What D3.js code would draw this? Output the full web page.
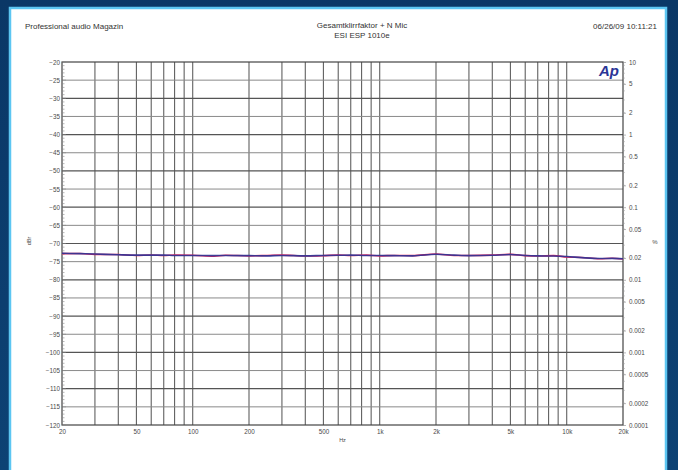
<!DOCTYPE html>
<html>
<head>
<meta charset="utf-8">
<script src="https://cdn.jsdelivr.net/npm/d3@7"></script>
<style>
  body { margin: 0; background: #0b3a6a; }
  svg { display: block; font-family: "Liberation Sans", Arial, sans-serif; }
</style>
</head>
<body>
<script>
const W = 678, H = 470;
const margin = { top: 62, right: 55, bottom: 45, left: 62 };

// frequency points (Hz) and measured THD+N (dBr) for the two channels
const freqs = [20, 25, 30, 40, 50, 60, 70, 80, 100, 130, 150, 200, 250, 300, 400, 500, 600, 700,
    850, 1000, 1200, 1500, 2000, 2500, 3000, 4000, 5000, 6000, 7000, 8500, 10000, 12000, 15000, 17500, 20000];
const blueSeries = [-72.7, -72.8, -72.9, -73.1, -73.2, -73.2, -73.2, -73.3, -73.3, -73.35, -73.3, -73.35, -73.4, -73.3, -73.4, -73.3, -73.25, -73.2,
    -73.3, -73.3, -73.35, -73.4, -72.95, -73.2, -73.35, -73.25, -73.05, -73.3, -73.4, -73.45, -73.6, -73.9, -74.15, -74.1, -74.2];
const redSeries = [-72.8, -72.75, -73.0, -73.05, -73.3, -73.15, -73.3, -73.2, -73.25, -73.5, -73.25, -73.4, -73.3, -73.2, -73.45, -73.35, -73.2, -73.3,
    -73.2, -73.4, -73.3, -73.35, -72.9, -73.3, -73.3, -73.2, -73.0, -73.35, -73.45, -73.35, -73.7, -73.85, -74.2, -74.05, -74.25];

const xTickValues = [20, 50, 100, 200, 500, 1000, 2000, 5000, 10000, 20000];
const xTickLabels = ["20", "50", "100", "200", "500", "1k", "2k", "5k", "10k", "20k"];
const dbTicks = d3.range(-20, -121, -5);
const pctTicks = [10, 5, 2, 1, 0.5, 0.2, 0.1, 0.05, 0.02, 0.01, 0.005, 0.002, 0.001, 0.0005, 0.0002, 0.0001];
const pctLabels = ["10", "5", "2", "1", "0.5", "0.2", "0.1", "0.05", "0.02", "0.01", "0.005", "0.002", "0.001", "0.0005", "0.0002", "0.0001"];

const svg = d3.select("body").append("svg")
    .attr("width", W)
    .attr("height", H);

// backdrop
const defs = svg.append("defs");
const grad = defs.append("linearGradient").attr("id", "bg").attr("x1", 0).attr("y1", 0).attr("x2", 0).attr("y2", 1);
grad.append("stop").attr("offset", "0%").attr("stop-color", "#0a3766");
grad.append("stop").attr("offset", "100%").attr("stop-color", "#0d4274");
svg.append("rect").attr("width", W).attr("height", H).attr("fill", "url(#bg)");

svg.append("rect")
    .attr("x", 10).attr("y", 8)
    .attr("width", 656).attr("height", 470)
    .attr("fill", "#ffffff")
    .attr("stroke", "#5cc6f2")
    .attr("stroke-width", 2.5);

const x = d3.scaleLog().domain([20, 20000]).range([margin.left, W - margin.right - 0]);
const y = d3.scaleLinear().domain([-20, -120]).range([margin.top, H - margin.bottom]);
const yPct = d3.scaleLog().domain([10, 0.0001]).range([margin.top, H - margin.bottom]);

const x0 = x.range()[0], x1 = x.range()[1];
const y0 = y.range()[0], y1 = y.range()[1];

// vertical grid
const xGrid = [];
[10, 100, 1000, 10000].forEach(d => {
    for (let k = 1; k <= 9; k++) {
        const f = d * k;
        if (f > 20 && f < 20000) xGrid.push(f);
    }
});
svg.append("g").selectAll("line")
    .data(xGrid)
    .join("line")
    .attr("x1", d => x(d)).attr("x2", d => x(d))
    .attr("y1", y0).attr("y2", y1)
    .attr("stroke", "#606060")
    .attr("stroke-width", 1.1);

// horizontal grid
svg.append("g").selectAll("line")
    .data(dbTicks.slice(1, -1))
    .join("line")
    .attr("x1", x0).attr("x2", x1)
    .attr("y1", d => y(d)).attr("y2", d => y(d))
    .attr("stroke", d => d % 10 === 0 ? "#555" : "#8a8a8a")
    .attr("stroke-width", d => d % 10 === 0 ? 1.2 : 1);

// frame
svg.append("rect")
    .attr("x", x0).attr("y", y0)
    .attr("width", x1 - x0).attr("height", y1 - y0)
    .attr("fill", "none")
    .attr("stroke", "#444")
    .attr("stroke-width", 1.2);

const tickFont = "6.3px";
const tickColor = "#4a4a4a";

// left axis
const leftAxis = svg.append("g")
    .attr("transform", "translate(" + x0 + ",0)")
    .call(d3.axisLeft(y).tickValues(dbTicks).tickSize(0).tickPadding(2));
leftAxis.select(".domain").remove();
leftAxis.selectAll("text").style("font-size", tickFont).attr("fill", tickColor);

svg.append("g").selectAll("line")
    .data(d3.range(-20, -121, -1))
    .join("line")
    .attr("x1", x0).attr("x2", d => x0 + (d % 5 === 0 ? 4 : 2.5))
    .attr("y1", d => y(d)).attr("y2", d => y(d))
    .attr("stroke", "#888")
    .attr("stroke-width", 0.6);

// right axis
const rightAxis = svg.append("g")
    .attr("transform", "translate(" + x1 + ",0)")
    .call(d3.axisRight(yPct).tickValues(pctTicks).tickFormat((d, i) => pctLabels[i]).tickSize(3).tickPadding(3));
rightAxis.select(".domain").remove();
rightAxis.selectAll("line").attr("stroke", "#888").attr("stroke-width", 0.6);
rightAxis.selectAll("text").style("font-size", tickFont).attr("fill", tickColor);

const pctMinor = [];
[0.0001, 0.001, 0.01, 0.1, 1].forEach(d => {
    for (let k = 2; k <= 9; k++) pctMinor.push(d * k);
});
svg.append("g").selectAll("line")
    .data(pctMinor)
    .join("line")
    .attr("x1", x1).attr("x2", x1 + 2)
    .attr("y1", d => yPct(d)).attr("y2", d => yPct(d))
    .attr("stroke", "#999")
    .attr("stroke-width", 0.5);

// bottom axis
const bottomAxis = svg.append("g")
    .attr("transform", "translate(0," + y1 + ")")
    .call(d3.axisBottom(x).tickValues(xTickValues).tickFormat((d, i) => xTickLabels[i]).tickSize(0).tickPadding(5));
bottomAxis.select(".domain").remove();
bottomAxis.selectAll("text").style("font-size", tickFont).attr("fill", tickColor);

// axis titles
svg.append("text")
    .attr("x", (x0 + x1) / 2).attr("y", y1 + 17)
    .attr("text-anchor", "middle")
    .style("font-size", "5.5px").attr("fill", tickColor)
    .text("Hz");

svg.append("text")
    .attr("transform", "translate(31,241) rotate(-90)")
    .attr("text-anchor", "middle")
    .style("font-size", "5.5px").attr("fill", tickColor)
    .text("dBr");

svg.append("text")
    .attr("x", 655).attr("y", 244)
    .attr("text-anchor", "middle")
    .style("font-size", "6px").attr("fill", tickColor)
    .text("%");

// curves
const line = d3.line()
    .x((d, i) => x(freqs[i]))
    .y(d => y(d))
    .curve(d3.curveMonotoneX);

svg.append("path")
    .datum(redSeries)
    .attr("d", line)
    .attr("fill", "none")
    .attr("stroke", "#e8245a")
    .attr("stroke-width", 1.6);

svg.append("path")
    .datum(blueSeries)
    .attr("d", line)
    .attr("fill", "none")
    .attr("stroke", "#2b3596")
    .attr("stroke-width", 1.6)
    .attr("opacity", 0.9);

// logo
svg.append("text")
    .attr("x", x1 - 4).attr("y", y0 + 14)
    .attr("text-anchor", "end")
    .style("font-size", "15px")
    .style("font-weight", "bold")
    .style("font-style", "italic")
    .attr("fill", "#2b3596")
    .text("Ap");

// header
svg.append("text")
    .attr("x", 25).attr("y", 29)
    .style("font-size", "8px").attr("fill", "#333")
    .text("Professional audio Magazin");

svg.append("text")
    .attr("x", 362).attr("y", 28)
    .attr("text-anchor", "middle")
    .style("font-size", "8px").attr("fill", "#333")
    .text("Gesamtklirrfaktor + N Mic");

svg.append("text")
    .attr("x", 362).attr("y", 38)
    .attr("text-anchor", "middle")
    .style("font-size", "8px").attr("fill", "#333")
    .text("ESI ESP 1010e");

svg.append("text")
    .attr("x", 657).attr("y", 29)
    .attr("text-anchor", "end")
    .style("font-size", "8px").attr("fill", "#333")
    .text("06/26/09 10:11:21");
</script>
</body>
</html>
